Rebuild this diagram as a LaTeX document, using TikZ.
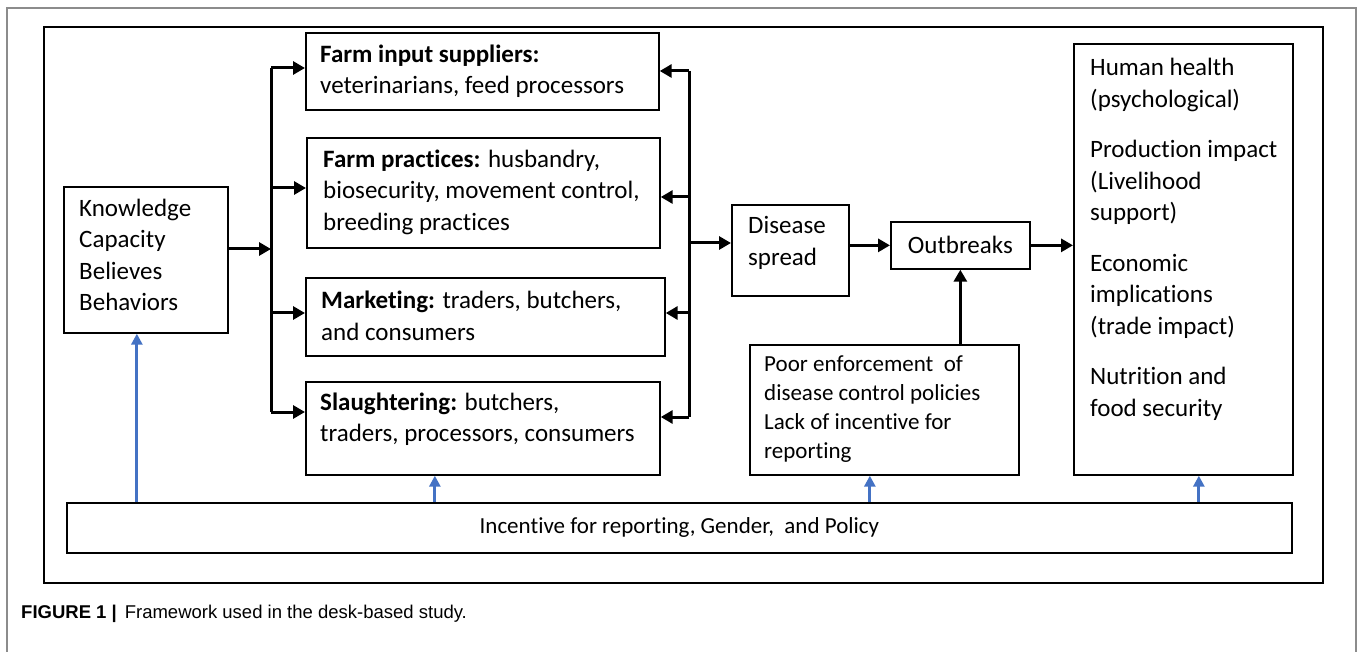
\documentclass[tikz,border=0pt]{standalone}
\usepackage{fontspec}
\setmainfont{Carlito}[Ligatures=CommonOff]
\newfontfamily\capfont{Liberation Sans}
\usetikzlibrary{arrows.meta}
\definecolor{bblue}{RGB}{68,114,196}
\definecolor{framegray}{RGB}{140,140,140}
\begin{document}
\begin{tikzpicture}[x=1pt,y=-1pt,
  box/.style={draw, line width=1.7pt, inner sep=0pt, anchor=north west},
  txt/.style={font=\fontsize{25}{31.5}\selectfont, align=left, inner sep=0pt},
  stxt/.style={font=\fontsize{23}{29}\selectfont, align=left, inner sep=0pt},
  busline/.style={line width=3pt},
  arr/.style={line width=3pt, -{Triangle[length=12pt,width=13pt]}},
  barr/.style={draw=bblue, line width=3pt, -{Triangle[length=11pt,width=11pt]}}]
\useasboundingbox (0,0) rectangle (1358,652);
\fill[white] (0,0) rectangle (1358,652);
% outer gray frame (open at bottom)
\draw[framegray, line width=1.6pt] (7,652) -- (7,8) -- (1356,8) -- (1356,652);
% black frame
\node[box, line width=2.4pt, minimum width=1279pt, minimum height=556pt] (frame) at (43,26) {};
% boxes
\node[box, minimum width=164pt, minimum height=146pt] (know) at (63,186) {};
\node[box, minimum width=353pt, minimum height=77pt] (fis) at (305,32) {};
\node[box, minimum width=353pt, minimum height=110pt] (fp) at (306,137) {};
\node[box, minimum width=359pt, minimum height=78pt] (mk) at (305,277) {};
\node[box, minimum width=354pt, minimum height=93pt] (sl) at (305,381) {};
\node[box, minimum width=117pt, minimum height=91pt] (ds) at (731,204) {};
\node[box, minimum width=139pt, minimum height=47pt, font=\fontsize{25}{31.5}\selectfont] (ob) at (890,221) {Outbreaks};
\node[box, minimum width=219pt, minimum height=431pt] (rb) at (1073,43) {};
\node[box, minimum width=269pt, minimum height=130pt] (pe) at (749,344) {};
\node[box, minimum width=1225pt, minimum height=50pt, font=\fontsize{23}{29}\selectfont] (pol) at (66,502) {Incentive for reporting, Gender,~ and Policy};
% texts
\node[txt, anchor=west] (knowt) at (79,255) {Knowledge\\Capacity\\Believes\\Behaviors};
\node[txt, anchor=west] (fist) at (320,71) {\textbf{Farm input suppliers:}\\veterinarians, feed processors};
\node[txt, anchor=west] (fpt) at (323,192) {\textbf{Farm practices:} husbandry,\\biosecurity, movement control,\\breeding practices};
\node[txt, anchor=west] (mkt) at (321,316) {\textbf{Marketing:} traders, butchers,\\and consumers};
\node[txt, anchor=west] (slt) at (320,419) {\textbf{Slaughtering:} butchers,\\traders, processors, consumers};
\node[txt, anchor=west] (dst) at (748,243) {Disease\\spread};
\node[txt, anchor=north west] (rbt) at (1090,58) {Human health\\(psychological)\\[19pt]Production impact\\(Livelihood\\support)\\[19pt]Economic\\implications\\(trade impact)\\[19pt]Nutrition and\\food security};
\node[stxt, anchor=west] (pet) at (764,409) {Poor enforcement~ of\\disease control policies\\Lack of incentive for\\reporting};
% left bus
\coordinate (lb1) at (271,68);
\coordinate (lb2) at (271,188);
\coordinate (lb3) at (271,313);
\coordinate (lb4) at (271,412);
\draw[busline] (lb1) -- (lb4);
\draw[arr] (know.east |- 0,249) -- (lb1 |- 0,249);
\draw[arr] (lb1) -- (lb1 -| fis.west);
\draw[arr] (lb2) -- (lb2 -| fp.west);
\draw[arr] (lb3) -- (lb3 -| mk.west);
\draw[arr] (lb4) -- (lb4 -| sl.west);
% right bus
\coordinate (rb1) at (689,71);
\coordinate (rb2) at (689,197);
\coordinate (rb3) at (689,313);
\coordinate (rb4) at (689,417);
\coordinate (rbm) at (689,243);
\draw[busline] (rb1) -- (rb4);
\draw[arr] (rb1) -- (rb1 -| fis.east);
\draw[arr] (rb2) -- (rb2 -| fp.east);
\draw[arr] (rb3) -- (rb3 -| mk.east);
\draw[arr] (rb4) -- (rb4 -| sl.east);
\draw[arr] (rbm) -- (rbm -| ds.west);
% flow to outcomes
\draw[arr] (ob.west -| ds.east) -- (ob.west);
\draw[arr] (ob.east) -- (ob.east -| rb.west);
\draw[arr] (ob.south |- pe.north) -- (ob.south);
% blue arrows
\draw[barr] ([xshift=-9pt]know.south |- pol.north) -- ([xshift=-9pt]know.south);
\draw[barr] ([xshift=-48pt]sl.south |- pol.north) -- ([xshift=-48pt]sl.south);
\draw[barr] ([xshift=-14.5pt]pe.south |- pol.north) -- ([xshift=-14.5pt]pe.south);
\draw[barr] ([xshift=15.5pt]rb.south |- pol.north) -- ([xshift=15.5pt]rb.south);
% caption
\node[anchor=west, inner sep=0pt, font=\capfont\fontsize{18.5}{22}\selectfont] (cap) at (21,614) {\textbf{FIGURE 1 |}\hspace{8pt}Framework used in the desk-based study.};
\end{tikzpicture}
\end{document}
